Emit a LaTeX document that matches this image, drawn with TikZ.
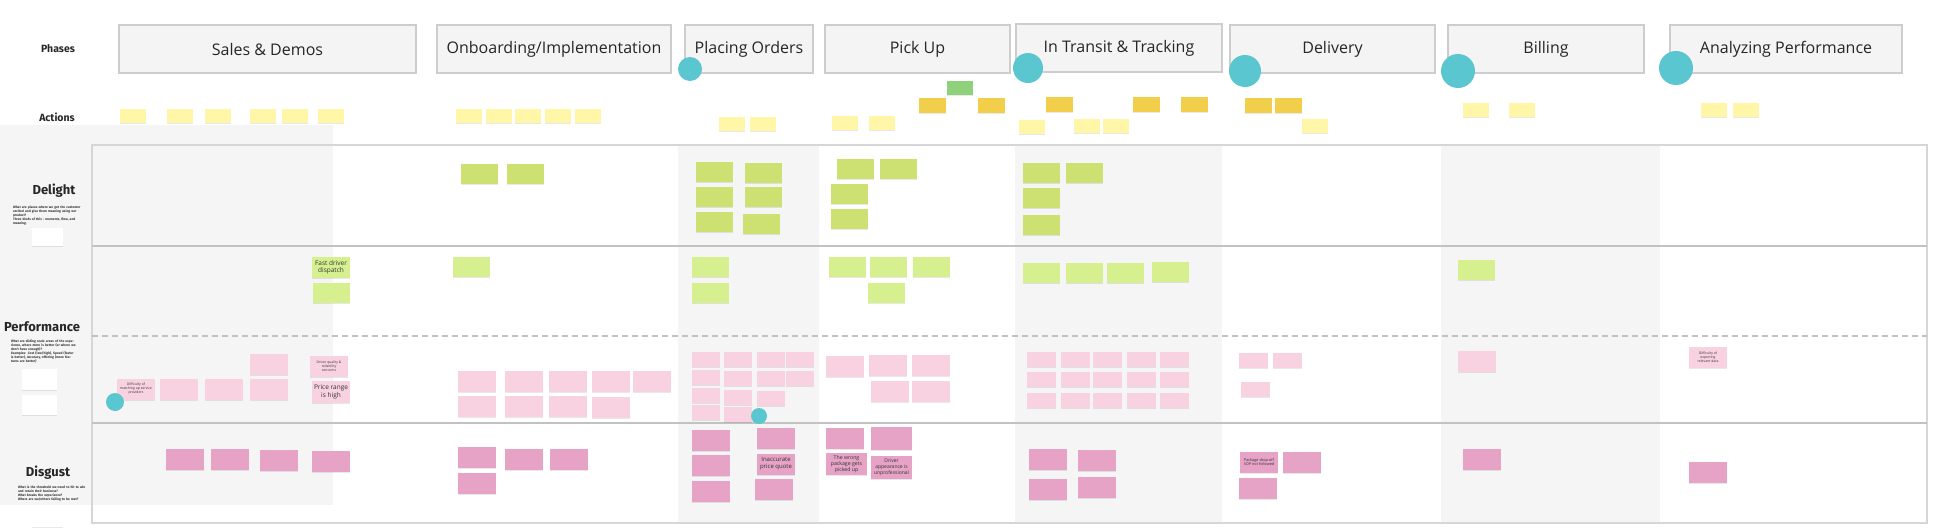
\documentclass[tikz,border=0pt]{standalone}
\usepackage{fontspec}
\setmainfont{Open Sans}
\newfontfamily\lblfont{Fira Sans}
\usetikzlibrary{shadows}
\definecolor{bgc}{HTML}{F5F5F5}
\definecolor{phasefill}{HTML}{F4F4F4}
\definecolor{phaseline}{HTML}{CDCDCD}
\definecolor{rowc}{HTML}{C2C2C2}
\definecolor{framec}{HTML}{D6D6D6}
\definecolor{ylwc}{HTML}{FFF6A8}
\definecolor{dylwc}{HTML}{F2CF4A}
\definecolor{gactc}{HTML}{8FD07A}
\definecolor{dgrc}{HTML}{CDE072}
\definecolor{pgrc}{HTML}{D7F08F}
\definecolor{lpkc}{HTML}{F8D2E0}
\definecolor{dpkc}{HTML}{E6A3C6}
\definecolor{tealc}{HTML}{5AC6CF}

\begin{document}
\begin{tikzpicture}[x=1pt,y=-1pt,
  phase/.style={draw=phaseline, fill=phasefill, line width=1.2pt, minimum height=48, text=black!85, font=\fontsize{16}{19}\selectfont},
  rowlabel/.style={text=black!85, font=\lblfont\bfseries\fontsize{13}{15}\selectfont},
  desc/.style={align=left, inner sep=0pt, text=black!80, font=\lblfont\bfseries\fontsize{3.3}{4}\selectfont},
  sticky/.style={inner sep=1pt, align=center, text=black!80, font=\fontsize{3.4}{4.1}\selectfont, drop shadow={shadow xshift=0pt, shadow yshift=-1.3pt, opacity=.18}},
  ylw/.style={sticky, fill=ylwc, minimum width=26, minimum height=14},
  dylw/.style={sticky, fill=dylwc, minimum width=27, minimum height=15},
  gact/.style={sticky, fill=gactc, minimum width=26, minimum height=14},
  dgr/.style={sticky, fill=dgrc, minimum width=37, minimum height=20},
  pgr/.style={sticky, fill=pgrc, minimum width=37, minimum height=20},
  lpk/.style={sticky, fill=lpkc, minimum width=38, minimum height=21},
  spk/.style={sticky, fill=lpkc, minimum width=28, minimum height=15},
  dpk/.style={sticky, fill=dpkc, minimum width=38, minimum height=21},
  card/.style={sticky, fill=white, minimum width=31, minimum height=18},
  tealdot/.style={circle, fill=tealc, inner sep=0pt}]
\useasboundingbox (0,0) rectangle (1936,530);
% shaded columns
\fill[bgc] (0,125) rectangle (333,505);
\fill[bgc] (678,145) rectangle (819,523);
\fill[bgc] (1015,145) rectangle (1222,523);
\fill[bgc] (1441,145) rectangle (1660,523);
% rows
\draw[framec, line width=1.2pt] (92,145) rectangle (1927,523);
\draw[rowc, line width=1.6pt] (92,246) -- (1927,246);
\draw[rowc, line width=1.6pt] (92,423) -- (1927,423);
\draw[rowc, line width=1.2pt, dash pattern=on 6pt off 4pt] (92,336) -- (1927,336);

\node[rowlabel, font=\lblfont\bfseries\fontsize{10.5}{12}\selectfont] (lphases) at (58,49) {Phases};
\node[rowlabel, font=\lblfont\bfseries\fontsize{10.5}{12}\selectfont] (lactions) at (57,117) {Actions};
\node[rowlabel] (ldelight) at (54,191) {Delight};
\node[rowlabel] (lperf) at (42,327) {Performance};
\node[rowlabel] (ldisgust) at (48,473) {Disgust};
\node[desc, text width=68] (ddelight) at (47,215.5) {What are places where we get the customer excited and give them meaning using our product?\\Three kinds of this - moments, flow, and meaning.};
\node[desc, text width=66] (dperf) at (44,351) {What are sliding scale areas of the experience, where more is better (or where we don't have enough)?\\Examples: Cost (low/high), Speed (faster is better), Accuracy, offering (more features are better)};
\node[desc, text width=74] (ddisgust) at (55,494) {What is the threshold we need to hit to win and retain their business?\\What breaks the experience?\\Where are we/others failing to be met?};
\node[card] (cdelight) at (47.5,237) {};
\node[card, minimum width=35, minimum height=21] (cperf1) at (39.5,379.5) {};
\node[card, minimum width=35, minimum height=20] (cperf2) at (39.5,405) {};
\node[card, minimum height=19] (cdisgust) at (47.5,517.5) {};

% phases
\node[phase, minimum width=297] (sales) at (267.5,49) {Sales \& Demos};
\node[phase, minimum width=234] (onboard) at (554,49) {Onboarding/Implementation};
\node[phase, minimum width=128] (placing) at (749,49) {Placing Orders};
\node[phase, minimum width=185] (pickup) at (917.5,49) {Pick Up};
\node[phase, minimum width=206] (transit) at (1119,48) {In Transit \& Tracking};
\node[phase, minimum width=205] (delivery) at (1332.5,49) {Delivery};
\node[phase, minimum width=196] (billing) at (1546,49) {Billing};
\node[phase, minimum width=232] (analyze) at (1786,49) {Analyzing Performance};

% actions
\foreach \x [count=\i] in {133,179.5,218,263,294.5,331,468.5,499,528,558,587.5}
  \node[ylw] (act-\i) at (\x,116) {};
\foreach \x/\y [count=\i] in {732/123.5,762.5/123.5,845/123,882/123,1031.5/126.5,1087/126,1115.5/126,1315/126,1475.5/109.5,1522/109.5,1713.5/109.5,1746/109.5}
  \node[ylw] (actb-\i) at (\x,\y) {};
\foreach \x/\y [count=\i] in {932/105,991/105,1059/104.5,1146.5/104.5,1194/104.5,1258/105,1288/105}
  \node[dylw] (actd-\i) at (\x,\y) {};
\node[gact] (actg) at (960,88) {};

% delight
\foreach \x/\y [count=\i] in {479.5/173.5,525.5/173.5,714.5/172,763.5/172.5,714.5/197,763.5/196.5,714.5/222,761/224,855/168.5,898.5/168.5,849.5/194,849.5/219,1041/172.5,1084/172.5,1041/197.5,1041/225}
  \node[dgr] (dl-\i) at (\x,\y) {};

% performance, more is better
\node[pgr, minimum width=38, minimum height=21, font=\fontsize{6.5}{7.6}\selectfont] (fast) at (331,267.5) {Fast driver\\dispatch};
\foreach \x/\y [count=\i] in {331/293,471.5/267,710.5/267,710.5/293,847/267,888/267,931/267,886/293,1041/273,1084.5/273,1125.5/273,1170/272,1476/269.5}
  \node[pgr] (pg-\i) at (\x,\y) {};

% performance, not enough
\node[lpk] (match) at (136,389) {Difficulty of\\matching up service\\providers};
\node[lpk] (driverq) at (329,366.5) {Driver quality \&\\reliability\\concerns};
\node[lpk, minimum height=22, font=\fontsize{6.5}{7.6}\selectfont] (price) at (331,392) {Price range\\is high};
\node[lpk] (export) at (1708,357.5) {Difficulty of\\exporting\\relevant data};
\foreach \x/\y [count=\i] in {179/389,223.5/389,269/364.5,269/389.5,477/381.5,477/406,524/381.5,524/406,568/381.5,568/406,611/381.5,611/407,652/381.5,845/366.5,888/365.5,931/365.5,890/391.5,931/391.5,1476.5/361}
  \node[lpk] (pk-\i) at (\x,\y) {};
\foreach \x/\y [count=\i] in {705.5/359.5,705.5/377.5,705.5/395.5,705.5/412,737.5/359.5,737.5/378,737.5/397,737.5/414,770.5/359.5,770.5/378,770.5/398.5,800/359.5,800/378}
  \node[spk] (po-\i) at (\x,\y) {};
\foreach \x in {1041.5,1075,1107,1141,1174.5}
  \foreach \y [count=\j] in {359.5,379,400.5}
    \node[spk, minimum width=29] (tr-\x-\j) at (\x,\y) {};
\foreach \x/\y [count=\i] in {1253.5/360.5,1287.5/360.5,1255/389.5}
  \node[spk, minimum width=29] (dv-\i) at (\x,\y) {};

% disgust
\node[dpk, font=\fontsize{6}{7}\selectfont] (quote) at (776,464) {Inaccurate\\price quote};
\node[dpk, minimum width=41, minimum height=22, font=\fontsize{5.2}{6.1}\selectfont] (wrong) at (846.5,464) {The wrong\\package gets\\picked up};
\node[dpk, minimum width=41, minimum height=23, font=\fontsize{5}{6}\selectfont] (appear) at (891.5,467.5) {Driver\\appearance is\\unprofessional};
\node[dpk, font=\fontsize{3.8}{4.6}\selectfont] (sop) at (1259,462) {Package drop-off\\SOP not followed};
\foreach \x/\y [count=\i] in {184.5/459.5,230/459.5,279/460,331/461,477/457,477/483,524/459.5,568.5/459.5,710.5/440.5,710.5/465.5,710.5/491.5,776/438.5,774/489.5,845/438.5,1047.5/459.5,1096.5/460.5,1047.5/489,1096.5/487,1302/462,1257.5/488.5,1482/459.5,1708/472}
  \node[dpk] (dg-\i) at (\x,\y) {};
\node[dpk, minimum width=41, minimum height=23] (dgp) at (891.5,438.5) {};

% notes on the side
\node[tealdot, minimum size=24] (n1) at (690,69) {};
\node[tealdot, minimum size=30] (n2) at (1028,68) {};
\node[tealdot, minimum size=32] (n3) at (1245,71) {};
\node[tealdot, minimum size=34] (n4) at (1458,71) {};
\node[tealdot, minimum size=34] (n5) at (1676,68) {};
\node[tealdot, minimum size=18] (n6) at (115,402) {};
\node[tealdot, minimum size=16] (n7) at (759,416) {};
\end{tikzpicture}
\end{document}
